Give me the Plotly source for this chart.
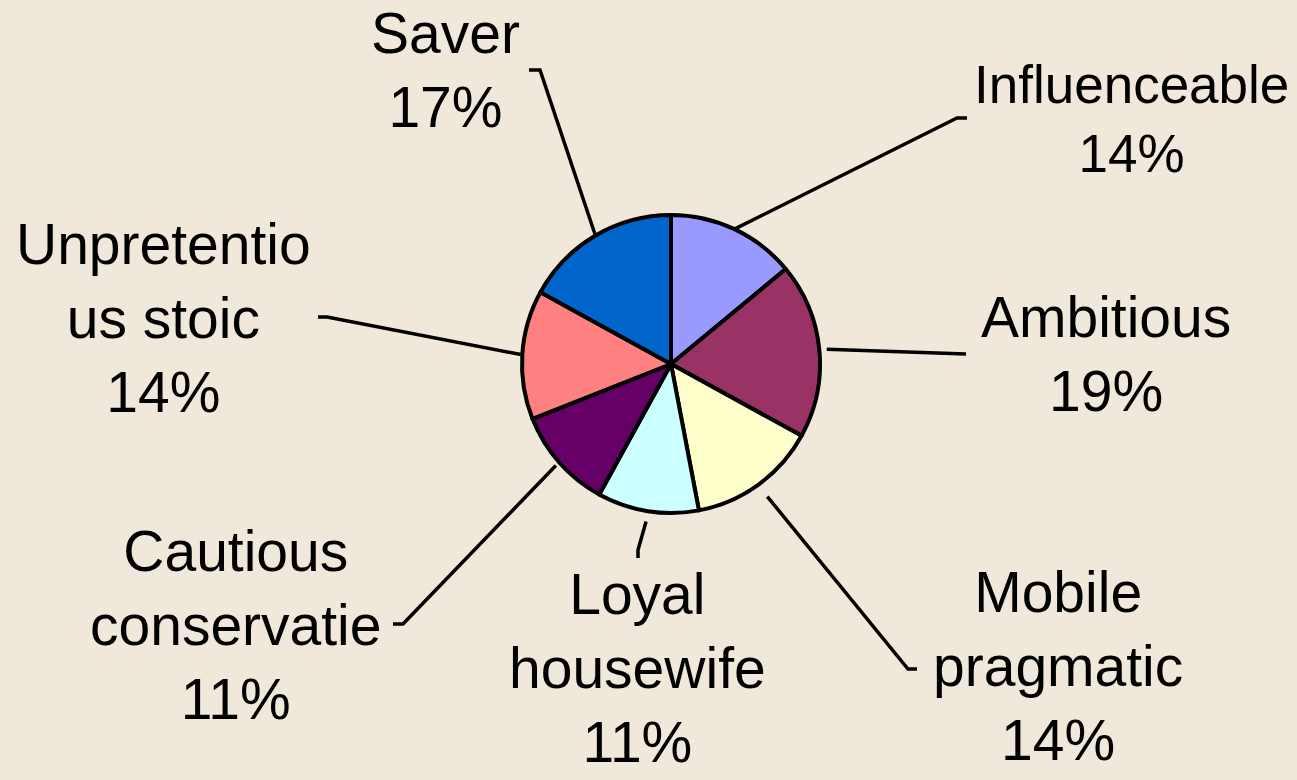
import math
import plotly.graph_objects as go

# Segment data, clockwise from 12 o'clock
segments = ["Influenceable", "Ambitious", "Mobile pragmatic", "Loyal housewife",
            "Cautious conservatie", "Unpretentious stoic", "Saver"]
label_text = ["Influenceable", "Ambitious", "Mobile<br>pragmatic", "Loyal<br>housewife",
              "Cautious<br>conservatie", "Unpretentio<br>us stoic", "Saver"]
shares = [14, 19, 14, 11, 11, 14, 17]
colors = ["#9999FF", "#993366", "#FFFFCC", "#CCFFFF", "#660066", "#FF8080", "#0066CC"]

W, H = 1297, 780
CX, CY, R = 671, 364, 149  # pie centre and radius in pixels

# Label layout (pixel centres), leader elbows, tick ends and anchor radius factors
label_pos = [(1131, 119), (1106, 354), (1058, 666), (637, 668),
             (236, 625), (163, 318), (445, 70)]
label_size = [53, 57, 57, 57, 57, 57, 57]
elbow = [(957, 118), (966, 354), (908, 669), (638, 550),
         (403, 624), (327, 317), (540, 70)]
tick_end = [(967, 118), (966, 354), (917, 669), (638, 558),
            (393, 624), (318, 317), (529, 70)]
anchor_r = [1.0, 1.05, 1.1, 1.07, 1.03, 1.01, 0.99]


def px(x, y):
    return x / W, 1 - y / H


fig = go.Figure(go.Pie(
    labels=segments,
    values=shares,
    sort=False,
    direction="clockwise",
    rotation=0,
    textinfo="none",
    hoverinfo="label+percent",
    marker=dict(colors=colors, line=dict(color="black", width=4)),
    domain=dict(x=[(CX - R) / W, (CX + R) / W], y=[1 - (CY + R) / H, 1 - (CY - R) / H]),
    showlegend=False,
))

total = sum(shares)
cum = 0
shapes, annotations = [], []
for i, v in enumerate(shares):
    mid = (cum + v / 2) / total * 2 * math.pi
    cum += v
    ax = CX + R * anchor_r[i] * math.sin(mid)
    ay = CY - R * anchor_r[i] * math.cos(mid)
    pts = [px(ax, ay), px(*elbow[i]), px(*tick_end[i])]
    path = "M {} {} L {} {} L {} {}".format(*[c for p in pts for c in p])
    shapes.append(dict(type="path", xref="paper", yref="paper", path=path,
                       line=dict(color="black", width=3.5)))
    lx, ly = px(*label_pos[i])
    annotations.append(dict(
        x=lx, y=ly, xref="paper", yref="paper", xanchor="center", yanchor="middle",
        text=f"{label_text[i]}<br>{v}%", showarrow=False, align="center",
        font=dict(family="Liberation Sans, Arial, sans-serif", size=label_size[i], color="black"),
    ))

fig.update_layout(
    width=W, height=H,
    margin=dict(l=0, r=0, t=0, b=0),
    paper_bgcolor="#F0E8DA",
    plot_bgcolor="#F0E8DA",
    shapes=shapes,
    annotations=annotations,
)

fig.write_html("out.html")
